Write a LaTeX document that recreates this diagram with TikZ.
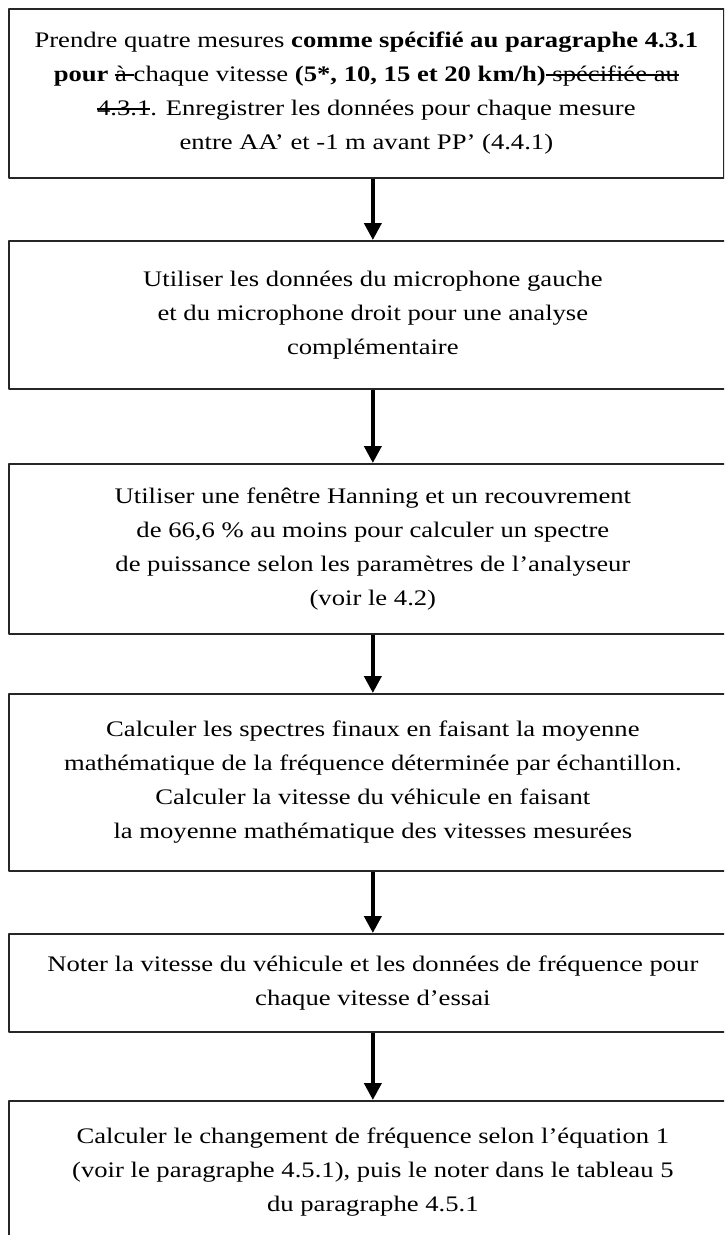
\documentclass[tikz,border=0pt]{standalone}
\usepackage{fontspec}
\setmainfont{Liberation Serif}[FakeStretch=1.2]
\usetikzlibrary{arrows.meta,positioning}
\newsavebox\barrebox
\newcommand\barre[1]{\sbox\barrebox{#1}\rlap{\rule[0.28em]{\wd\barrebox}{0.06em}}\usebox\barrebox}
\begin{document}
\begin{tikzpicture}[x=1pt,y=-1pt,line join=round,
	stepbox/.style={draw=black!85,line width=1.7pt,anchor=north west,align=center,inner sep=0pt,font=\fontsize{22.2}{34}\selectfont},
	flow/.style={line width=4pt,-{Triangle[length=17pt,width=17pt]}}]
	\def\xg{8} \def\wb{728} % bord gauche, largeur
	\useasboundingbox (0,0) rectangle (724,1235);
	\clip (0,0) rectangle (724,1235);
	\node[stepbox,minimum width=715,minimum height=169] (e1) at (\xg,8) {Prendre quatre mesures \textbf{comme spécifié au paragraphe 4.3.1}\\ \textbf{pour} \barre{à }chaque vitesse \textbf{(5*, 10, 15 et 20 km/h)}\barre{ spécifiée au}\\ \barre{4.3.1}. Enregistrer les données pour chaque mesure\\ entre AA’ et -1 m avant PP’ (4.4.1)};
	\node[stepbox,minimum width=\wb,minimum height=148] (e2) at (\xg,240) {Utiliser les données du microphone gauche\\ et du microphone droit pour une analyse\\ complémentaire};
	\node[stepbox,minimum width=\wb,minimum height=170] (e3) at (\xg,463) {Utiliser une fenêtre Hanning et un recouvrement\\ de 66,6 \% au moins pour calculer un spectre\\ de puissance selon les paramètres de l’analyseur\\ (voir le 4.2)};
	\node[stepbox,minimum width=\wb,minimum height=177] (e4) at (\xg,693) {Calculer les spectres finaux en faisant la moyenne\\ mathématique de la fréquence déterminée par échantillon.\\ Calculer la vitesse du véhicule en faisant\\ la moyenne mathématique des vitesses mesurées};
	\node[stepbox,minimum width=\wb,minimum height=98] (e5) at (\xg,933) {Noter la vitesse du véhicule et les données de fréquence pour\\ chaque vitesse d’essai};
	\node[stepbox,minimum width=\wb,minimum height=142] (e6) at (\xg,1100) {Calculer le changement de fréquence selon l’équation 1\\ (voir le paragraphe 4.5.1), puis le noter dans le tableau 5\\ du paragraphe 4.5.1};
	\draw[flow] (e1.south -| e2.north) -- (e2.north);
	\foreach \a/\b in {e2/e3,e3/e4,e4/e5,e5/e6}
	\draw[flow] (\a.south) -- (\b.north);
\end{tikzpicture}
\end{document}
